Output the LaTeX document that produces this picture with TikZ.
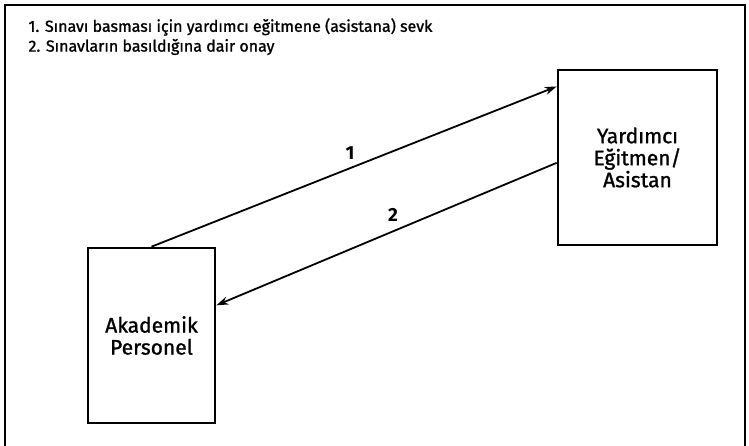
\documentclass[tikz,border=0pt]{standalone}
\usepackage{fontspec}
\setmainfont{Fira Sans}
\newfontfamily\heavyfont{Fira Sans}[FakeBold=1.2]
\usetikzlibrary{arrows.meta, positioning, calc}

\begin{document}
\begin{tikzpicture}[x=1pt, y=-1pt, >={Stealth[length=12pt,width=8pt]},
    actor/.style={draw, line width=2.6pt, minimum width=127pt, minimum height=175pt,
      align=center, font=\heavyfont\fontsize{21}{22}\selectfont},
    flow/.style={->, line width=1.8pt},
    legend/.style={anchor=west, font=\heavyfont\fontsize{16}{16}\selectfont},
    num/.style={font=\fontsize{19}{20}\selectfont\bfseries}]
    \useasboundingbox (0,0) rectangle (749,446);
    \draw[line width=2.6pt] (5,446) -- (5,5) -- (745,5) -- (745,446);
    \node[legend] (l1) at (25,27) {1. Sınavı basması için yardımcı eğitmene (asistana) sevk};
    \node[legend] (l2) at (25,47) {2. Sınavların basıldığına dair onay};
    \node[actor] (ak) at (151.5,335.5) {Akademik\\Personel};
    \node[actor, minimum width=159pt] (yr) at (637.5,157.5) {Yardımcı\\Eğitmen/\\Asistan};
    \coordinate (in1)  at ($(yr.north west)!0.1!(yr.south west)$);
    \coordinate (out2) at ($(yr.north west)!0.53!(yr.south west)$);
    \coordinate (in2)  at ($(ak.north east)!0.33!(ak.south east)$);
    \draw[flow] (ak.north) -- (in1);
    \draw[flow] (out2) -- (in2);
    \node[num] (n1) at (350,153) {1};
    \node[num] (n2) at (393,215) {2};
\end{tikzpicture}
\end{document}
